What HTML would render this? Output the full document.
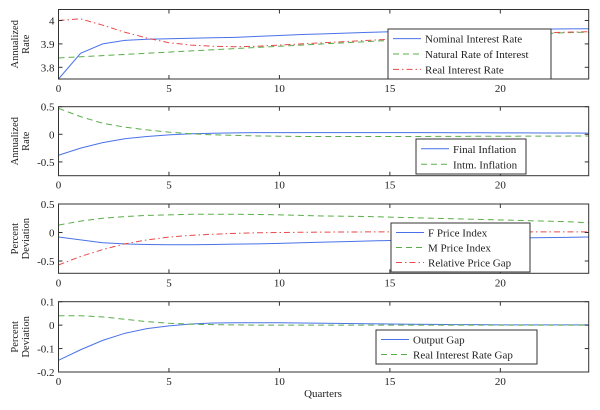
<!DOCTYPE html>
<html><head><meta charset="utf-8">
<style>
html,body{margin:0;padding:0;background:#fff;}
svg, svg text{font-family:"Liberation Serif","Times New Roman",serif;}
</style></head>
<body>
<svg id="chart" width="600" height="405" viewBox="0 0 600 405" font-family="Liberation Serif, serif"></svg>
<script>
const quarters = Array.from({length:25},(_,i)=>i);
const xTicks = [0,5,10,15,20];

const nominalRate = [3.75,3.86,3.90,3.915,3.92,3.922,3.924,3.926,3.928,3.932,3.936,3.94,3.943,3.946,3.949,3.952,3.954,3.956,3.958,3.96,3.961,3.962,3.963,3.964,3.965];
const naturalRate = [3.84,3.845,3.85,3.855,3.86,3.865,3.87,3.875,3.88,3.885,3.89,3.895,3.90,3.905,3.91,3.915,3.92,3.925,3.93,3.935,3.94,3.942,3.945,3.948,3.95];
const realRate = [4.0,4.007,3.98,3.95,3.925,3.905,3.895,3.89,3.888,3.89,3.895,3.9,3.905,3.91,3.915,3.92,3.925,3.93,3.935,3.94,3.943,3.946,3.948,3.95,3.952];

const finalInflation = [-0.38,-0.25,-0.15,-0.08,-0.04,-0.01,0.01,0.02,0.025,0.03,0.03,0.03,0.03,0.03,0.03,0.03,0.03,0.03,0.028,0.027,0.026,0.025,0.024,0.023,0.022];
const intmInflation = [0.47,0.32,0.2,0.13,0.08,0.04,0.01,-0.01,-0.02,-0.03,-0.035,-0.04,-0.04,-0.04,-0.04,-0.04,-0.04,-0.038,-0.037,-0.036,-0.035,-0.034,-0.033,-0.032,-0.03];

const fPrice = [-0.08,-0.13,-0.18,-0.2,-0.21,-0.215,-0.215,-0.21,-0.205,-0.2,-0.19,-0.18,-0.17,-0.16,-0.15,-0.14,-0.13,-0.12,-0.11,-0.105,-0.1,-0.095,-0.09,-0.085,-0.08];
const mPrice = [0.13,0.2,0.25,0.28,0.3,0.31,0.32,0.32,0.32,0.315,0.31,0.3,0.29,0.285,0.28,0.27,0.26,0.25,0.24,0.23,0.22,0.21,0.2,0.19,0.17];
const relPriceGap = [-0.57,-0.42,-0.3,-0.2,-0.13,-0.08,-0.05,-0.03,-0.015,-0.005,0.0,0.004,0.007,0.009,0.01,0.011,0.012,0.012,0.012,0.012,0.012,0.012,0.011,0.011,0.01];

const outputGap = [-0.15,-0.105,-0.065,-0.035,-0.015,-0.003,0.005,0.009,0.01,0.01,0.01,0.009,0.008,0.007,0.006,0.005,0.004,0.003,0.002,0.002,0.001,0.001,0.001,0.001,0.001];
const rirGap = [0.04,0.04,0.035,0.025,0.015,0.008,0.004,0.002,0.001,0,0,0,0,0,0,0,0,0,0,0,0,0,0,0,0];

const BLUE="#4a72e8", GREEN="#5aae4a", RED="#e84a4a";
const SOLID="", DASH="6,4", DASHDOT="6,3,1.5,3";

const panels = [
 {name:"interest-rate-panel", top:9.5, bottom:79, ymin:3.75, ymax:4.047, yTicks:[3.8,3.9,4], yTickLabels:["3.8","3.9","4"], ylab:["Annualized","Rate"],
  series:[{d:nominalRate,c:BLUE,s:SOLID,n:"Nominal Interest Rate"},{d:naturalRate,c:GREEN,s:DASH,n:"Natural Rate of Interest"},{d:realRate,c:RED,s:DASHDOT,n:"Real Interest Rate"}],
  leg:{x:388,y:29,w:163,h:50}},
 {name:"inflation-panel", top:106.7, bottom:175.7, ymin:-0.75, ymax:0.5, yTicks:[-0.5,0,0.5], yTickLabels:["-0.5","0","0.5"], ylab:["Annualized","Rate"],
  series:[{d:finalInflation,c:BLUE,s:SOLID,n:"Final Inflation"},{d:intmInflation,c:GREEN,s:DASH,n:"Intm. Inflation"}],
  leg:{x:416,y:139,w:110,h:35}},
 {name:"price-index-panel", top:204, bottom:273.3, ymin:-0.716, ymax:0.5, yTicks:[-0.5,0,0.5], yTickLabels:["-0.5","0","0.5"], ylab:["Percent","Deviation"],
  series:[{d:fPrice,c:BLUE,s:SOLID,n:"F Price Index"},{d:mPrice,c:GREEN,s:DASH,n:"M Price Index"},{d:relPriceGap,c:RED,s:DASHDOT,n:"Relative Price Gap"}],
  leg:{x:391,y:223,w:139,h:49}},
 {name:"output-gap-panel", top:301.7, bottom:372, ymin:-0.2, ymax:0.1, yTicks:[-0.2,-0.1,0,0.1], yTickLabels:["-0.2","-0.1","0","0.1"], ylab:["Percent","Deviation"],
  series:[{d:outputGap,c:BLUE,s:SOLID,n:"Output Gap"},{d:rirGap,c:GREEN,s:DASH,n:"Real Interest Rate Gap"}],
  leg:{x:376,y:330,w:161,h:34}}
];

const NS="http://www.w3.org/2000/svg";
const svg=document.getElementById('chart');
const X0=58.5, X1=588.7, XMIN=0, XMAX=24;
const FONT="Liberation Serif, Times New Roman, serif";
const xs=v=>X0+(v-XMIN)/(XMAX-XMIN)*(X1-X0);
function mk(tag,attrs,parent){const e=document.createElementNS(NS,tag);for(const k in attrs)e.setAttribute(k,attrs[k]);if(tag==='text')e.setAttribute('font-family',FONT);(parent||svg).appendChild(e);return e;}

panels.forEach(p=>{
  const g=mk('g',{});
  
  
  const ys=v=>p.bottom-(v-p.ymin)/(p.ymax-p.ymin)*(p.bottom-p.top);
  p.series.forEach(s=>{
    const pts=quarters.map((q,i)=>xs(q).toFixed(2)+","+ys(s.d[i]).toFixed(2)).join(" ");
    const pl=mk('polyline',{points:pts,fill:"none",stroke:s.c,"stroke-width":1,"stroke-dasharray":s.s},g);
    
    
  });
  const fr=mk('rect',{x:X0,y:p.top,width:X1-X0,height:p.bottom-p.top,fill:"none",stroke:"#333","stroke-width":1},g);
  
  
  xTicks.forEach(t=>{
    const x=xs(t);
    mk('line',{x1:x,x2:x,y1:p.bottom,y2:p.bottom-4,stroke:"#333"},g);
    mk('line',{x1:x,x2:x,y1:p.top,y2:p.top+4,stroke:"#333"},g);
    const tx=mk('text',{x:x,y:p.bottom+13,"font-size":11,"text-anchor":"middle",fill:"#222"},g);
    tx.textContent=t;
    
    
  });
  p.yTicks.forEach((t,i)=>{
    const y=ys(t);
    mk('line',{x1:X0,x2:X0+4,y1:y,y2:y,stroke:"#333"},g);
    mk('line',{x1:X1,x2:X1-4,y1:y,y2:y,stroke:"#333"},g);
    const tx=mk('text',{x:X0-4,y:y+4,"font-size":11,"text-anchor":"end",fill:"#222"},g);
    tx.textContent=p.yTickLabels[i];
    
    
  });
  const cy=(p.top+p.bottom)/2;
  p.ylab.forEach((l,i)=>{
    const x=18+i*11;
    const tx=mk('text',{x:x,y:cy,"font-size":10.5,"text-anchor":"middle",fill:"#222",transform:`rotate(-90 ${x} ${cy})`},g);
    tx.textContent=l;
    
    
  });
  const L=p.leg;
  const lg=mk('g',{},g);
  
  
  mk('rect',{x:L.x,y:L.y,width:L.w,height:L.h,fill:"#fff",stroke:"#333","stroke-width":1},lg);
  const rowH=(L.h-4)/p.series.length;
  p.series.forEach((s,i)=>{
    const y=L.y+2+rowH*(i+0.5);
    mk('line',{x1:L.x+5,x2:L.x+33,y1:y,y2:y,stroke:s.c,"stroke-dasharray":s.s},lg);
    const tx=mk('text',{x:L.x+37,y:y+4,"font-size":11,fill:"#222"},lg);
    tx.textContent=s.n;
    
    
  });
});
const xl=mk('text',{x:323,y:397,"font-size":11,"text-anchor":"middle",fill:"#222"});
xl.textContent="Quarters";


</script>
</body></html>
